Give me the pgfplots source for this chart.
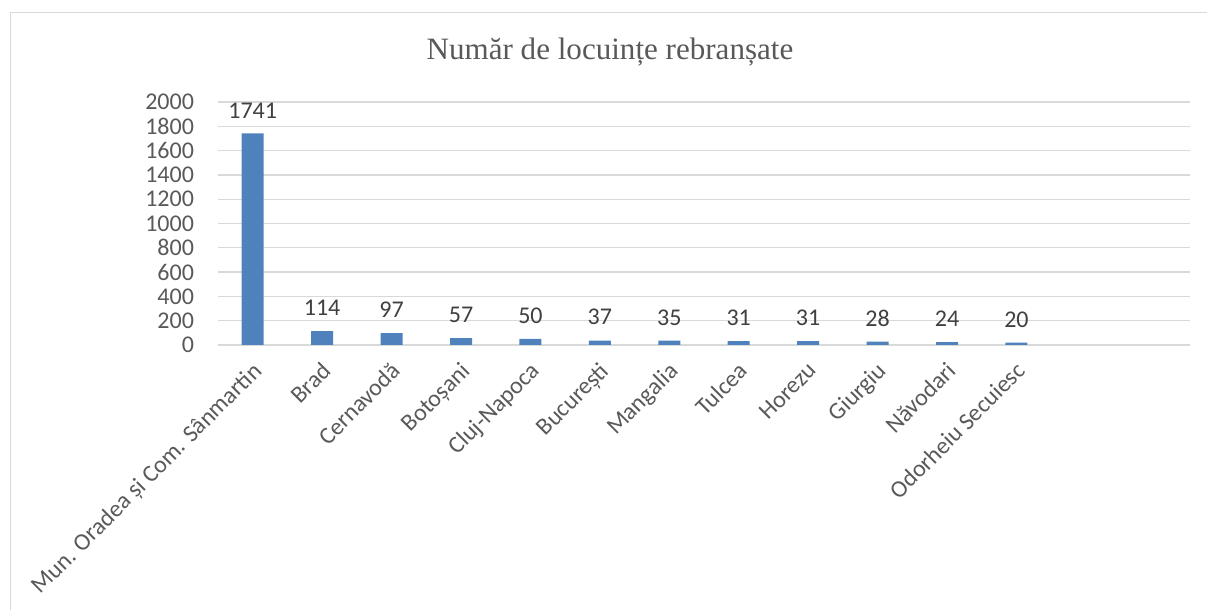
\documentclass[border=0pt]{standalone}
\usepackage{fontspec}
\setmainfont{Carlito}
\newfontfamily\titlefont{Liberation Serif}
\usepackage{pgfplots}
\pgfplotsset{compat=1.18}
\definecolor{barblue}{HTML}{4F81BD}
\definecolor{gridgray}{HTML}{D9D9D9}
\definecolor{txtgray}{HTML}{595959}
\definecolor{lblgray}{HTML}{404040}

\begin{document}
\begin{tikzpicture}
% page = 1207 x 610 px at 0.75pt per px
\useasboundingbox (0,0) rectangle (905.25pt,457.5pt);
\draw[gridgray, line width=1.2pt] (7.9pt,0) -- (7.9pt,448.1pt) -- (905.25pt,448.1pt);
\node[anchor=base, text=txtgray, font=\titlefont\fontsize{23.3}{26}\selectfont] at (457.5pt,413pt) {Număr de locuințe rebranșate};
\begin{axis}[
    at={(163.5pt,198.75pt)}, anchor=south west,
    scale only axis, width=729pt, height=182.25pt,
    ymin=0, ymax=2000, ytick distance=200,
    xmin=-0.5, xmax=13.5,
    xtick={0,...,11},
    xticklabels={Mun. Oradea și Com. Sânmartin, Brad, Cernavodă, Botoșani, Cluj-Napoca, București, Mangalia, Tulcea, Horezu, Giurgiu, Năvodari, Odorheiu Secuiesc},
    x tick label style={rotate=45, anchor=north east, inner sep=1pt, xshift=-8pt, yshift=-6.4pt, font=\fontsize{18}{20}\selectfont},
    y tick label style={xshift=-14.5pt, font=\fontsize{18}{20}\selectfont},
    ticklabel style={text=txtgray},
    /pgf/number format/assume math mode=true,
    /pgf/number format/1000 sep={},
    major tick length=0pt,
    ymajorgrids, grid style={gridgray, line width=1pt},
    axis x line*=bottom, axis y line*=left,
    x axis line style={gridgray, line width=1pt},
    y axis line style={draw=none},
    ybar, bar width=16.5pt,
    nodes near coords,
    every node near coord/.append style={font=\fontsize{18}{20}\selectfont, text=lblgray, yshift=8pt, /pgf/number format/1000 sep={}},
    clip=false,
]
\addplot[fill=barblue, draw=none] coordinates {
(0,1741) (1,114) (2,97) (3,57) (4,50) (5,37) (6,35) (7,31) (8,31) (9,28) (10,24) (11,20)
};
\end{axis}
\end{tikzpicture}
\end{document}
